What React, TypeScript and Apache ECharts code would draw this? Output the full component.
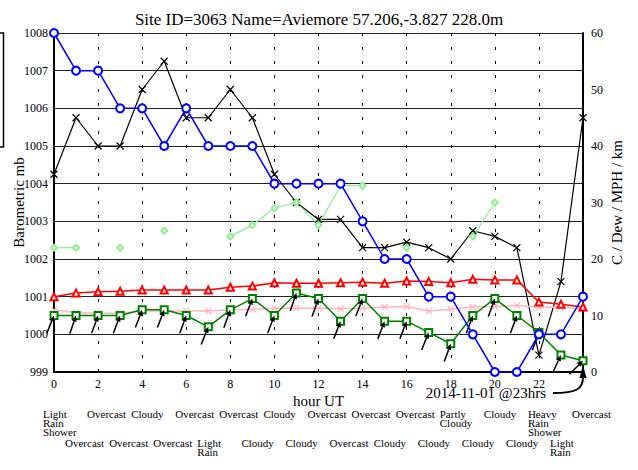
import React, { useEffect, useRef } from "react";
import * as echarts from "echarts";

const FONT = "'Liberation Serif', 'Times New Roman', serif";

const titleText = "Site ID=3063 Name=Aviemore 57.206,-3.827 228.0m";
const annotationText = "2014-11-01 @23hrs";
const annotationHour = 24;

const hours = [0, 1, 2, 3, 4, 5, 6, 7, 8, 9, 10, 11, 12, 13, 14, 15, 16, 17, 18, 19, 20, 21, 22, 23, 24];

// Barometric pressure (mb) - left axis
const pressure = [1008, 1007, 1007, 1006, 1006, 1005, 1006, 1005, 1005, 1005, 1004, 1004, 1004, 1004, 1003, 1002, 1002, 1001, 1001, 1000, 999, 999, 1000, 1000, 1001];

// Right axis series
const visibility = [35, 45, 40, 40, 50, 55, 45, 45, 50, 45, 35, 30, 27, 27, 22, 22, 23, 22, 20, 25, 24, 22, 3, 16, 45];
const temperature = [13.3, 14.0, 14.2, 14.3, 14.5, 14.5, 14.5, 14.5, 15.0, 15.2, 15.8, 15.7, 15.7, 15.8, 15.9, 15.7, 16.1, 16.0, 15.8, 16.4, 16.3, 16.3, 12.4, 12.0, 11.5];
const dewPoint = [11.0, 10.5, 10.4, 10.4, 10.8, 10.8, 10.8, 10.8, 11.0, 11.1, 11.3, 11.3, 11.3, 11.2, 11.3, 11.5, 11.6, 10.8, 11.1, 11.5, 11.6, 11.8, 11.4, 11.5, 11.1];
const windSpeed = [10, 10, 10, 10, 11, 11, 10, 8, 11, 13, 10, 14, 13, 9, 13, 9, 9, 7, 5, 10, 13, 10, 7, 3, 2];
const windGust = [22, 22, null, 22, null, 25, null, null, 24, 26, 29, 30, 26, 33, 33, null, 22, null, null, 24, 30, null, null, null, null];
const windDir = [202, 199, 200, 201, 201, 201, 200, 202, 200, 201, 201, 199, 200, 201, 201, 201, 201, 202, 200, 200, 200, 200, 200, 205, 225];

const weather = [
  "Light Rain Shower", "Overcast", "Overcast", "Overcast", "Cloudy", "Overcast", "Overcast", "Light Rain",
  "Overcast", "Cloudy", "Cloudy", "Cloudy", "Overcast", "Overcast", "Overcast", "Cloudy", "Overcast",
  "Cloudy", "Partly Cloudy", "Cloudy", "Cloudy", "Cloudy", "Heavy Rain Shower", "Light Rain", "Overcast",
];

const X_SYMBOL = "path://M0,0L7,7M0,7L7,0";

export default function App() {
  const ref = useRef<HTMLDivElement>(null);

  useEffect(() => {
    if (!ref.current) return;
    const chart = echarts.init(ref.current, undefined, { renderer: "svg" });

    const pair = (arr: (number | null)[]) => hours.map((h, i) => [h, arr[i]]);

    const option: any = {
      animation: false,
      backgroundColor: "#fff",
      textStyle: { fontFamily: FONT },
      title: {
        text: titleText,
        left: "center",
        top: 6,
        textStyle: { fontSize: 17, fontWeight: "normal", fontFamily: FONT, color: "#000" },
      },
      grid: { left: 54, right: 55, top: 33, bottom: 98, containLabel: false, outerBoundsMode: "none" },
      graphic: [
        {
          type: "rect",
          shape: { x: -20, y: 33, width: 23.5, height: 114 },
          style: { fill: "none", stroke: "#000", lineWidth: 1.5 },
        },
      ],
      xAxis: {
        type: "value",
        min: 0,
        max: 24,
        interval: 2,
        name: "hour UT",
        nameLocation: "middle",
        nameGap: 21,
        nameMoveOverlap: false,
        nameTextStyle: { fontSize: 15, fontFamily: FONT, color: "#000" },
        axisLine: { show: true, onZero: false, lineStyle: { color: "#000", width: 2 } },
        axisTick: { show: true, inside: true, length: 3, lineStyle: { color: "#000" } },
        axisLabel: {
          fontSize: 12,
          fontFamily: FONT,
          color: "#000",
          margin: 6,
          formatter: (v: number) => (v === 24 ? "" : String(v)),
        },
        splitLine: { show: true, lineStyle: { color: "#000", width: 1, type: [3, 11] } },
      },
      yAxis: [
        {
          type: "value",
          min: 999,
          max: 1008,
          interval: 1,
          name: "Barometric mb",
          nameLocation: "middle",
          nameGap: 28,
          nameMoveOverlap: false,
          nameTextStyle: { fontSize: 15, fontFamily: FONT, color: "#000" },
          axisLine: { show: true, lineStyle: { color: "#000", width: 2 } },
          axisTick: { show: false },
          axisLabel: {
            fontSize: 12,
            fontFamily: FONT,
            color: "#000",
            margin: 6,
            formatter: (v: number) => String(v),
          },
          splitLine: { show: true, lineStyle: { color: "#222", width: 1 } },
        },
        {
          type: "value",
          position: "right",
          min: 0,
          max: 60,
          interval: 10,
          name: "C / Dew / MPH / km",
          nameLocation: "middle",
          nameGap: 26,
          nameMoveOverlap: false,
          nameTextStyle: { fontSize: 15, fontFamily: FONT, color: "#000" },
          axisLine: { show: true, lineStyle: { color: "#000", width: 2 } },
          axisTick: { show: false },
          axisLabel: {
            fontSize: 12,
            fontFamily: FONT,
            color: "#000",
            margin: 8,
            formatter: (v: number) => String(v),
          },
          splitLine: { show: false },
        },
      ],
      series: [
        {
          type: "line",
          name: "Visibility",
          yAxisIndex: 1,
          data: pair(visibility),
          symbol: X_SYMBOL,
          symbolSize: 7,
          lineStyle: { color: "#000", width: 1.2 },
          itemStyle: { color: "#000", borderColor: "#000", borderWidth: 1.2 },
          z: 2,
        },
        {
          type: "line",
          name: "Gust",
          yAxisIndex: 1,
          data: pair(windGust),
          connectNulls: false,
          symbol: "emptyDiamond",
          symbolSize: 6,
          showAllSymbol: true,
          lineStyle: { color: "#90ee90", width: 1.2 },
          itemStyle: { color: "#90ee90", borderWidth: 1.2 },
          z: 2,
        },
        {
          type: "line",
          name: "Dew",
          yAxisIndex: 1,
          data: pair(dewPoint),
          symbol: X_SYMBOL,
          symbolSize: 6,
          lineStyle: { color: "#ffb6c1", width: 1.5 },
          itemStyle: { color: "#ffb6c1", borderColor: "#ffb6c1", borderWidth: 1.2 },
          z: 3,
        },
        {
          type: "line",
          name: "Temperature",
          yAxisIndex: 1,
          data: pair(temperature),
          symbol: "emptyTriangle",
          symbolSize: 7,
          lineStyle: { color: "#ff0000", width: 1.5 },
          itemStyle: { color: "#ff0000", borderWidth: 1.5 },
          z: 3,
        },
        {
          type: "line",
          name: "Wind",
          yAxisIndex: 1,
          data: pair(windSpeed),
          symbol: "emptyRect",
          symbolSize: 7,
          lineStyle: { color: "#008000", width: 1.5 },
          itemStyle: { color: "#008000", borderWidth: 1.5 },
          z: 4,
        },
        {
          type: "custom",
          name: "WindArrows",
          yAxisIndex: 1,
          clip: false,
          silent: true,
          data: pair(windSpeed),
          encode: { x: 0, y: 1 },
          z: 5,
          renderItem: (params: any, api: any) => {
            const i = params.dataIndex;
            const p = api.coord([api.value(0), api.value(1)]);
            const th = ((windDir[i] - 180) * Math.PI) / 180;
            const ux = Math.sin(th);
            const uy = -Math.cos(th);
            const L = 19;
            const hl = 6;
            const hw = 2.6;
            const tail = [p[0] - ux * L, p[1] - uy * L];
            const base = [p[0] - ux * hl, p[1] - uy * hl];
            const px = -uy;
            const py = ux;
            return {
              type: "group",
              children: [
                {
                  type: "line",
                  shape: { x1: tail[0], y1: tail[1], x2: base[0], y2: base[1] },
                  style: { stroke: "#000", lineWidth: 1.5 },
                },
                {
                  type: "polygon",
                  shape: {
                    points: [
                      [p[0], p[1]],
                      [base[0] + px * hw, base[1] + py * hw],
                      [base[0] - px * hw, base[1] - py * hw],
                    ],
                  },
                  style: { fill: "#000" },
                },
              ],
            };
          },
        },
        {
          type: "line",
          name: "Pressure",
          yAxisIndex: 0,
          data: pair(pressure),
          symbol: "emptyCircle",
          symbolSize: 8,
          lineStyle: { color: "#0000ff", width: 1.5 },
          itemStyle: { color: "#0000ff", borderWidth: 1.5 },
          z: 6,
        },
        {
          type: "custom",
          name: "Weather",
          yAxisIndex: 1,
          clip: false,
          silent: true,
          data: hours.map((h) => [h, 0]),
          encode: { x: 0, y: 1 },
          renderItem: (params: any, api: any) => {
            const i = params.dataIndex;
            const p = api.coord([api.value(0), api.value(1)]);
            const row = i % 2;
            return {
              type: "text",
              x: p[0] - 11,
              y: p[1] + (row ? 66.5 : 37.5),
              style: {
                text: weather[i].replace(/ /g, "\n"),
                fontSize: 11,
                fontFamily: FONT,
                lineHeight: 9,
                fill: "#000",
                align: "left",
                verticalAlign: "top",
              },
            };
          },
        },
        {
          type: "custom",
          name: "Annotation",
          yAxisIndex: 1,
          clip: false,
          silent: true,
          data: [[annotationHour, 0]],
          encode: { x: 0, y: 1 },
          z: 7,
          renderItem: (params: any, api: any) => {
            const p = api.coord([api.value(0), api.value(1)]);
            return {
              type: "group",
              children: [
                {
                  type: "text",
                  x: p[0] - 37,
                  y: p[1] + 21,
                  style: {
                    text: annotationText,
                    fontSize: 15,
                    fontFamily: FONT,
                    fill: "#000",
                    align: "right",
                    verticalAlign: "middle",
                  },
                },
                {
                  type: "bezierCurve",
                  shape: {
                    x1: p[0] - 30,
                    y1: p[1] + 21,
                    cpx1: p[0] - 6,
                    cpy1: p[1] + 21,
                    cpx2: p[0],
                    cpy2: p[1] + 17,
                    x2: p[0],
                    y2: p[1] + 5,
                  },
                  style: { stroke: "#000", lineWidth: 2, fill: "none" },
                },
                {
                  type: "polygon",
                  shape: {
                    points: [
                      [p[0], p[1] - 7],
                      [p[0] - 3.5, p[1] + 6],
                      [p[0] + 3.5, p[1] + 6],
                    ],
                  },
                  style: { fill: "#000" },
                },
              ],
            };
          },
        },
      ],
    };

    chart.setOption(option);
    return () => {
      chart.dispose();
    };
  }, []);

  return (
    <div
      ref={ref}
      style={{ position: "absolute", left: 0, top: 0, width: 638, height: 470, background: "#fff" }}
    />
  );
}
